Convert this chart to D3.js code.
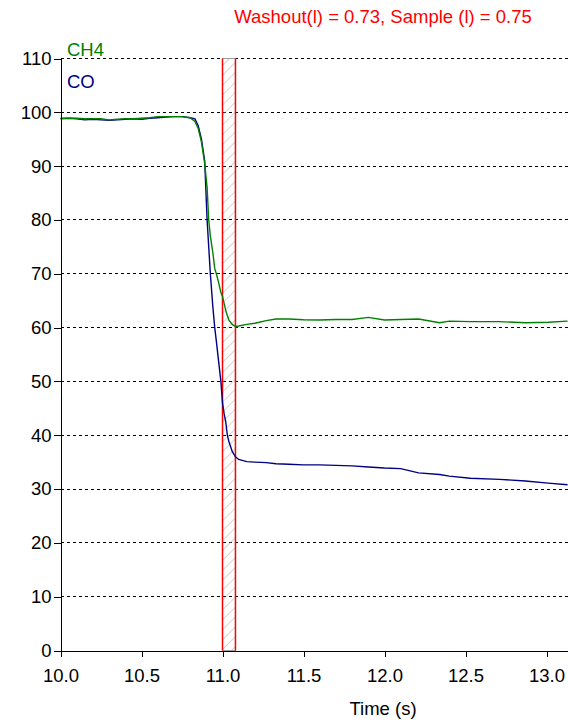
<!DOCTYPE html>
<html>
<head>
<meta charset="utf-8">
<script src="https://cdn.jsdelivr.net/npm/d3@7"></script>
<style>
  body { margin: 0; background: #fff; }
  text { font-family: "Liberation Sans", Arial, sans-serif; }
</style>
</head>
<body>
<div id="chart"></div>
<script>
// data
var times = [10.00, 10.05, 10.10, 10.15, 10.20, 10.25, 10.30, 10.35, 10.40, 10.45, 10.50, 10.55, 10.60, 10.65, 10.70, 10.75, 10.80, 10.83, 10.85, 10.87, 10.89, 10.905, 10.915, 10.925, 10.94, 10.952, 10.962, 10.975, 10.99, 11.00, 11.01, 11.02, 11.03, 11.04, 11.06, 11.08, 11.10, 11.15, 11.20, 11.27, 11.33, 11.41, 11.50, 11.60, 11.70, 11.80, 11.90, 12.00, 12.10, 12.21, 12.34, 12.40, 12.53, 12.71, 12.87, 13.01, 13.13];
var ch4 = [98.9, 98.9, 98.9, 98.8, 98.8, 98.8, 98.6, 98.7, 98.8, 98.8, 98.9, 99.0, 99.2, 99.2, 99.2, 99.2, 99.0, 98.3, 97.0, 94.5, 90.5, 86.0, 80.0, 77.0, 74.0, 71.0, 70.0, 68.5, 66.5, 65.8, 64.5, 63.2, 62.2, 61.4, 60.6, 60.2, 60.3, 60.6, 60.8, 61.3, 61.6, 61.6, 61.45, 61.4, 61.5, 61.5, 61.9, 61.4, 61.5, 61.6, 60.9, 61.2, 61.1, 61.1, 60.9, 61.0, 61.2];
var co = [98.8, 98.9, 98.8, 98.6, 98.7, 98.6, 98.5, 98.6, 98.7, 98.8, 98.7, 98.9, 99.0, 99.1, 99.2, 99.2, 99.0, 98.8, 97.5, 95.0, 91.0, 80.0, 75.0, 70.0, 64.0, 60.0, 57.5, 54.0, 50.0, 46.0, 44.0, 42.5, 40.0, 38.8, 37.0, 36.0, 35.5, 35.1, 35.0, 34.9, 34.7, 34.6, 34.5, 34.5, 34.4, 34.3, 34.1, 33.9, 33.8, 33.0, 32.7, 32.4, 32.0, 31.8, 31.5, 31.1, 30.8];
var yTicks = [0, 10, 20, 30, 40, 50, 60, 70, 80, 90, 100, 110];
var xTicks = [10.0, 10.5, 11.0, 11.5, 12.0, 12.5, 13.0];
var band = [11.0, 11.08];
var title = "Washout(l) = 0.73, Sample (l) = 0.75";

var svgWidth = 568;
var svgHeight = 723;
var margin = { top: 58.5, left: 60.5 };
var width = 507.5;
var height = 592;
var fontSize = "18.5px";

var svg = d3.select("#chart")
  .append("svg")
  .attr("width", svgWidth)
  .attr("height", svgHeight);

var defs = svg.append("defs");
var pat = defs.append("pattern")
  .attr("id", "hatch")
  .attr("patternUnits", "userSpaceOnUse")
  .attr("width", 7)
  .attr("height", 7)
  .attr("patternTransform", "rotate(45)");
pat.append("line")
  .attr("x1", 0).attr("y1", 0).attr("x2", 0).attr("y2", 7)
  .attr("stroke", "#b0b0b0")
  .attr("stroke-width", 1);

var chartGroup = svg.append("g")
  .attr("transform", `translate(${margin.left}, ${margin.top})`);

var x = d3.scaleLinear().domain([10, 10 + width / 162]).range([0, width]);
var y = d3.scaleLinear().domain([0, 110]).range([height, 0]);

// dashed grid lines
chartGroup.selectAll(".grid")
  .data(yTicks.filter(d => d > 0))
  .enter()
  .append("line")
  .attr("x1", 0)
  .attr("x2", width)
  .attr("y1", d => y(d))
  .attr("y2", d => y(d))
  .attr("stroke", "#000")
  .attr("stroke-dasharray", "3,3")
  .attr("shape-rendering", "crispEdges");

// hatched band
chartGroup.append("rect")
  .attr("x", x(band[0]))
  .attr("y", y(110))
  .attr("width", x(band[1]) - x(band[0]))
  .attr("height", y(0) - y(110))
  .attr("fill", "url(#hatch)")
  .attr("stroke", "#a0a0a0")
  .attr("stroke-width", 1);
band.forEach(function(b) {
  chartGroup.append("line")
    .attr("x1", x(b)).attr("x2", x(b))
    .attr("y1", y(110)).attr("y2", y(0))
    .attr("stroke", "#ff0000")
    .attr("stroke-width", 1.5);
});

// lines
var line = d3.line()
  .x((d, i) => x(times[i]))
  .y(d => y(d));

chartGroup.append("path")
  .datum(co)
  .attr("d", line)
  .attr("fill", "none")
  .attr("stroke", "#000080")
  .attr("stroke-width", 1.4);

chartGroup.append("path")
  .datum(ch4)
  .attr("d", line)
  .attr("fill", "none")
  .attr("stroke", "#008000")
  .attr("stroke-width", 1.4);

// axes
var bottomAxis = d3.axisBottom(x).tickValues(xTicks).tickFormat(d3.format(".1f")).tickSize(6).tickSizeOuter(0);
var leftAxis = d3.axisLeft(y).tickValues(yTicks).tickSize(7).tickSizeOuter(0);

var xg = chartGroup.append("g")
  .attr("transform", `translate(0, ${height})`)
  .call(bottomAxis);
var yg = chartGroup.append("g")
  .call(leftAxis);

[xg, yg].forEach(function(g) {
  g.selectAll("path, line").attr("stroke", "#000").attr("shape-rendering", "crispEdges");
  g.selectAll("text").attr("fill", "#000").style("font-size", fontSize);
});
xg.selectAll("text").attr("y", 18);
yg.selectAll("text").attr("x", -9);

// labels
svg.append("text")
  .attr("x", 383)
  .attr("y", 715)
  .attr("text-anchor", "middle")
  .style("font-size", fontSize)
  .attr("fill", "#000")
  .text("Time (s)");

svg.append("text")
  .attr("x", 383)
  .attr("y", 23)
  .attr("text-anchor", "middle")
  .style("font-size", fontSize)
  .attr("fill", "#ff0000")
  .text(title);

svg.append("text")
  .attr("x", 67)
  .attr("y", 56)
  .style("font-size", fontSize)
  .attr("fill", "#008000")
  .text("CH4");

svg.append("text")
  .attr("x", 67)
  .attr("y", 88)
  .style("font-size", fontSize)
  .attr("fill", "#000080")
  .text("CO");
</script>
</body>
</html>
